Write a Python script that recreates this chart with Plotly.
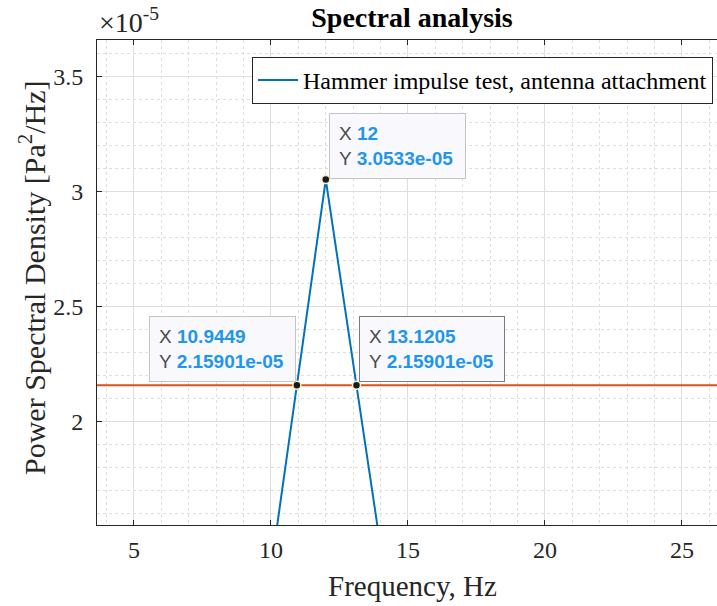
import plotly.graph_objects as go

# Data
freq = [8, 10, 12, 14, 16]
psd = [0.45e-5, 1.3581e-5, 3.0533e-5, 1.457e-5, 0.5e-5]
half_power = 2.15901e-05
x_range = [3.65, 26.28]
y_range = [1.552e-5, 3.66e-5]
tip_x = [12, 10.9449, 13.1205]
tip_y = [3.0533e-05, 2.15901e-05, 2.15901e-05]
tip_xlabel = ["12", "10.9449", "13.1205"]
tip_ylabel = ["3.0533e-05", "2.15901e-05", "2.15901e-05"]
ytick_vals = [2e-5, 2.5e-5, 3e-5, 3.5e-5]
ytick_text = ["2", "2.5", "3", "3.5"]
xtick_vals = [5, 10, 15, 20, 25]

SERIF = "Liberation Serif"
SANS = "Liberation Sans"
BLUE = "#0072BD"
ORANGE = "#D95319"
AXC = "#262626"

fig = go.Figure()
fig.add_trace(go.Scatter(x=x_range, y=[half_power, half_power], mode="lines",
                         line=dict(color=ORANGE, width=2), showlegend=False, hoverinfo="skip"))
fig.add_trace(go.Scatter(x=freq, y=psd, mode="lines", name="Hammer impulse test, antenna attachment",
                         line=dict(color=BLUE, width=2)))
fig.add_trace(go.Scatter(x=tip_x, y=tip_y, mode="markers", showlegend=False,
                         marker=dict(color="#1a1a1a", size=8, line=dict(color="#f5f0c8", width=1.5))))

val_c = "#1e96f0"
lab_c = "#4a4a4a"
shifts = [(3, 1, "left"), (-1, 3, "right"), (3, 3, "left")]
widths = [117, 127, 126]
borders = ["#c4c4c4", "#c4c4c4", "#7a7a7a"]
for i in range(3):
    xs, ys, anc = shifts[i]
    txt = (f"<span style='color:{lab_c}'>X</span> <b>{tip_xlabel[i]}</b><br>"
           f"<span style='color:{lab_c}'>Y</span> <b>{tip_ylabel[i]}</b>")
    fig.add_annotation(x=tip_x[i], y=tip_y[i], xref="x", yref="y", text=txt,
                       showarrow=False, xanchor=anc, yanchor="bottom", xshift=xs, yshift=ys,
                       align="left", width=widths[i], font=dict(family=SANS, size=19, color=val_c),
                       bgcolor="#f9f9fd", bordercolor=borders[i], borderwidth=1, borderpad=9)

# exponent label
fig.add_annotation(x=0, y=1, xref="paper", yref="paper", xanchor="left", yanchor="bottom",
                   text="×10<sup>-5</sup>", showarrow=False, yshift=0, xshift=0,
                   font=dict(family=SERIF, size=28, color=AXC))
# axis titles (axes box extends past the right edge of the picture)
fig.add_annotation(x=(412 - 97) / 620, y=-(586 - 525) / 485, xref="paper", yref="paper",
                   text="Frequency, Hz", showarrow=False, xanchor="center", yanchor="middle",
                   font=dict(family=SERIF, size=29, color=AXC))
fig.add_annotation(x=-(97 - 32) / 620, y=(525 - 278) / 485, xref="paper", yref="paper",
                   text="Power Spectral Density [Pa<sup>2</sup>/Hz]", textangle=-90,
                   showarrow=False, xanchor="center", yanchor="middle",
                   font=dict(family=SERIF, size=30, color=AXC))

axis_common = dict(showline=True, linecolor=AXC, linewidth=1,
                   ticks="inside", ticklen=5, tickcolor=AXC,
                   showgrid=True, gridcolor="#dedede", gridwidth=1, zeroline=False,
                   tickfont=dict(family=SERIF, size=24, color=AXC))

fig.update_xaxes(range=x_range, tickvals=xtick_vals, mirror="ticks", ticklabelstandoff=3, **axis_common,
                 minor=dict(dtick=1, showgrid=True, gridcolor="#dedede", griddash="dot", ticks=""))
fig.update_yaxes(range=y_range, tickvals=ytick_vals, ticktext=ytick_text, mirror=False,
                 ticklabelstandoff=8, **axis_common,
                 minor=dict(dtick=1e-6, showgrid=True, gridcolor="#dedede", griddash="dot", ticks=""))

fig.update_layout(
    width=717, height=606,
    margin=dict(l=97, r=0, t=40, b=81),
    plot_bgcolor="white", paper_bgcolor="white",
    title=dict(text="<b>Spectral analysis</b>", x=412 / 717, xanchor="center", y=1 - 17 / 606,
               yanchor="middle", font=dict(family=SERIF, size=28, color="black")),
    legend=dict(x=(713 - 97) / 620, y=0.965, xanchor="right", yanchor="top", bgcolor="white",
                bordercolor=AXC, borderwidth=1, font=dict(family=SERIF, size=24, color="black"),
                itemwidth=40, tracegroupgap=0),
    hovermode=False,
)

fig.write_html("out.html")
